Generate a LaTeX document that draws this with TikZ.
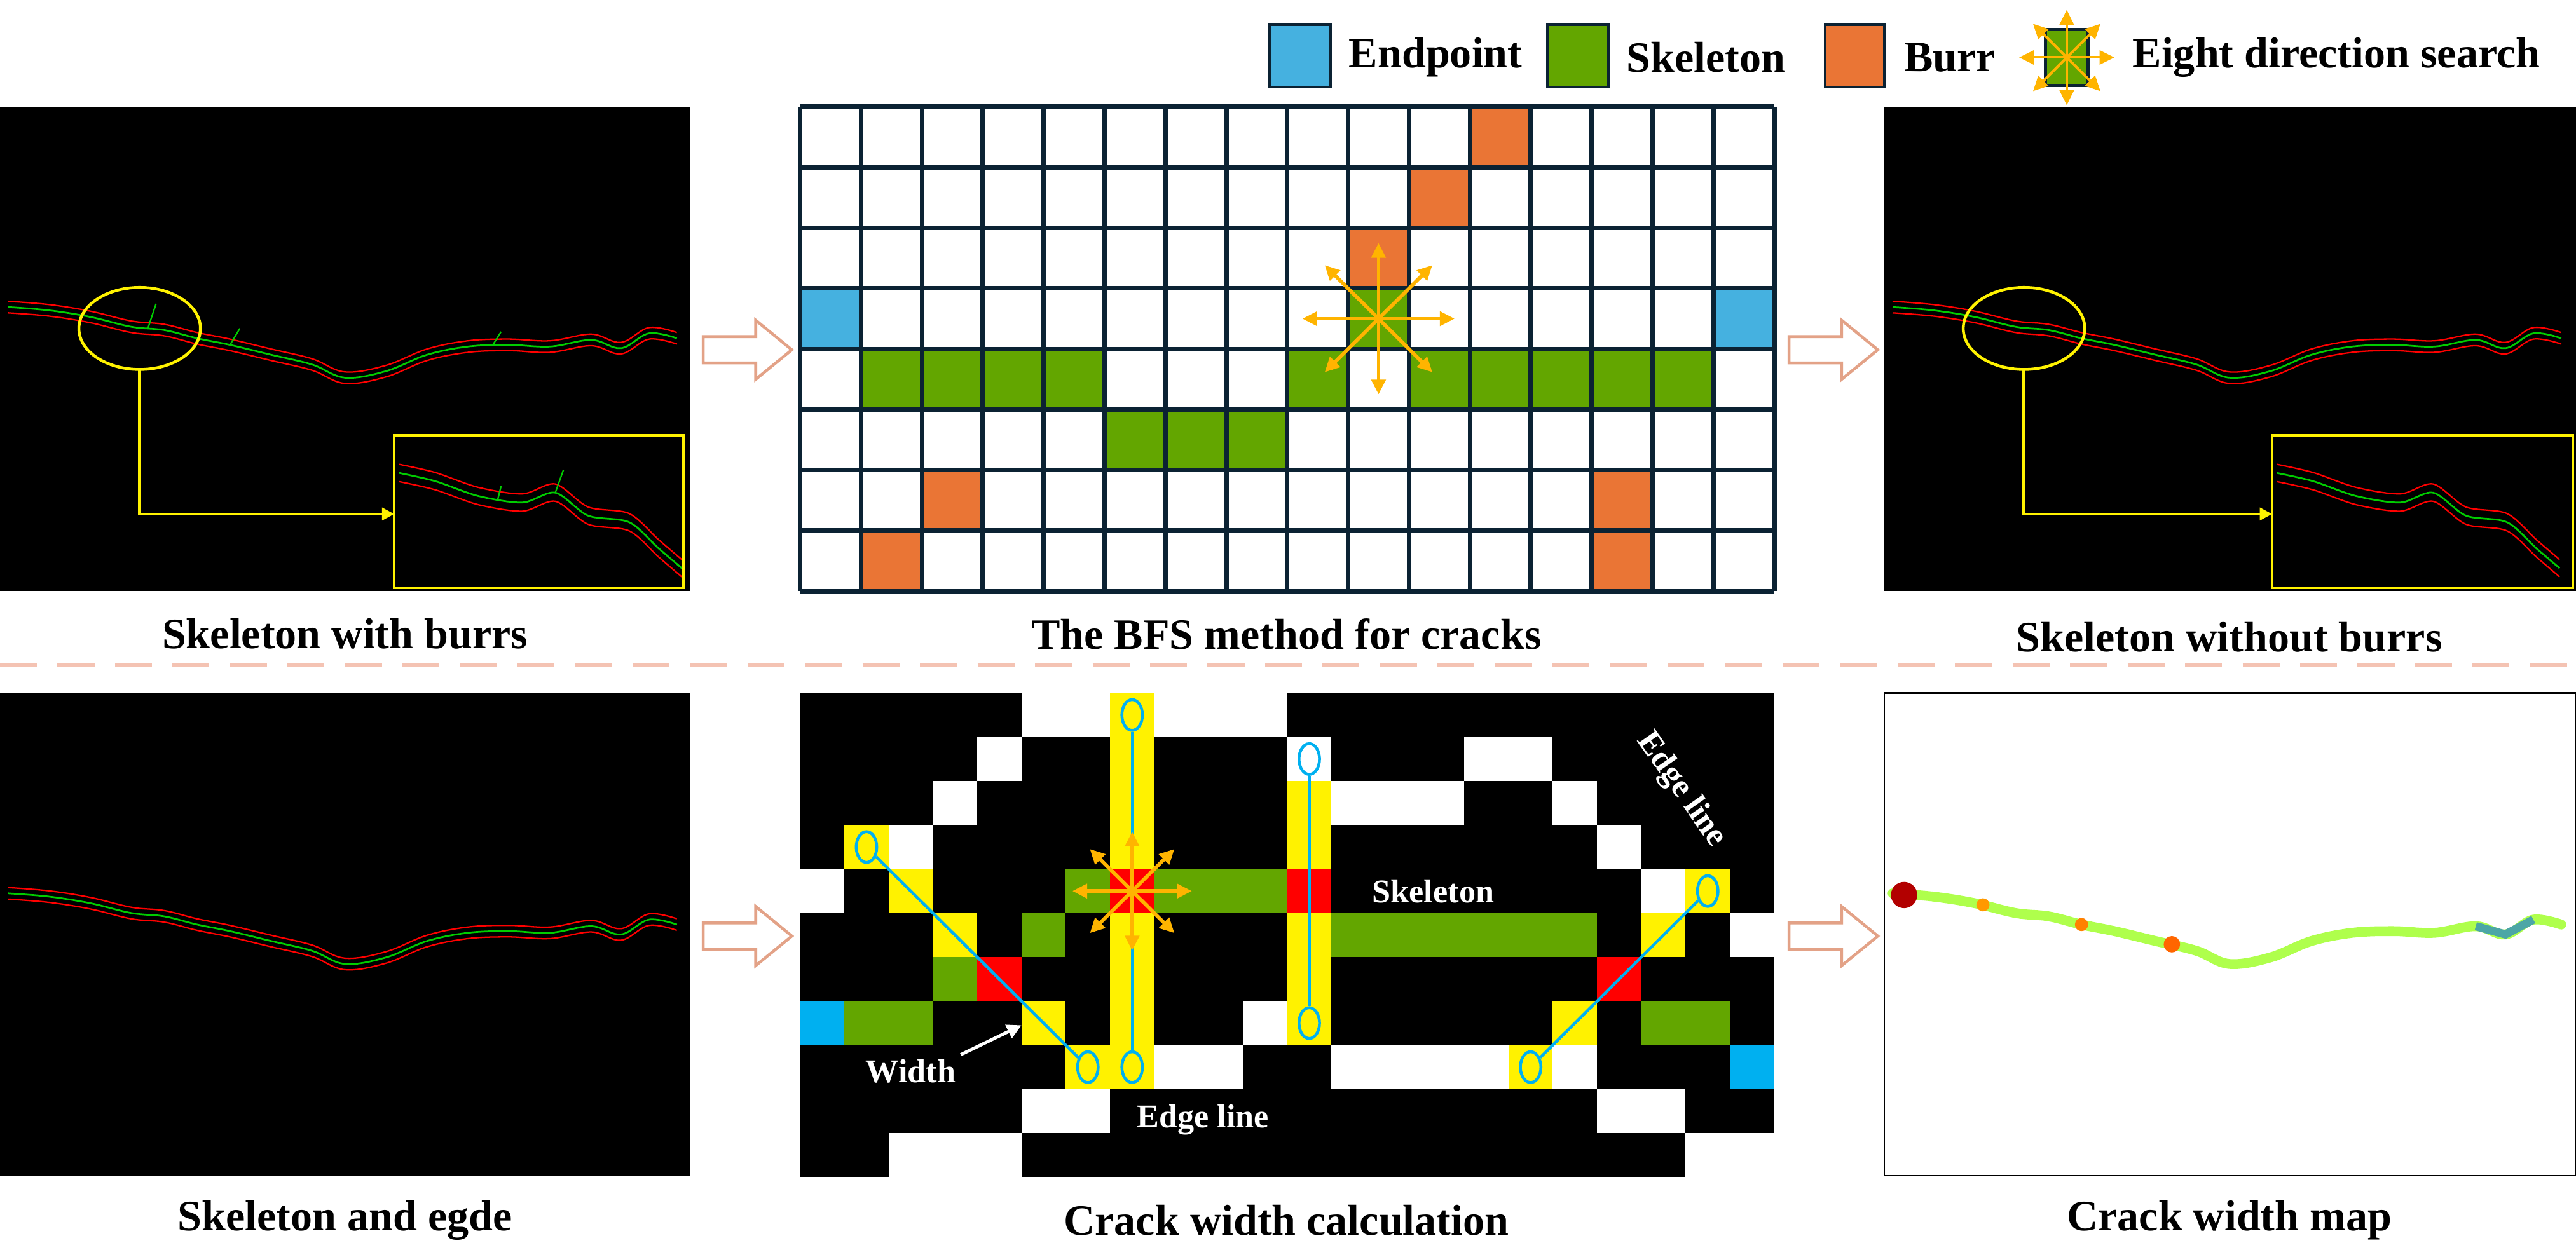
\documentclass[tikz,border=0pt]{standalone}
\usepackage{fontspec}
\setmainfont{Liberation Serif}
\usetikzlibrary{arrows.meta,shapes.geometric}

\definecolor{gridnavy}{HTML}{0B2233}
\definecolor{skelgreen}{HTML}{63A600}
\definecolor{burrorange}{HTML}{EA7535}
\definecolor{endblue}{HTML}{45B1E0}
\definecolor{cyanline}{HTML}{00B0F0}
\definecolor{starorange}{HTML}{FFB400}
\definecolor{hollowarrow}{HTML}{E3A287}
\definecolor{dashpink}{HTML}{F4C3B3}

\tikzset{
	caption/.style={font=\fontsize{30}{34}\selectfont\bfseries},
	legendtext/.style={font=\fontsize{30}{34}\selectfont\bfseries, anchor=west},
	innertext/.style={font=\fontsize{23}{26}\selectfont\bfseries, text=white},
	legendbox/.style={draw=gridnavy, line width=2pt},
	endcircle/.style={ellipse, draw=cyanline, line width=2pt, minimum width=5mm, minimum height=7.5mm, inner sep=0pt},
	flow/.style={draw=hollowarrow, line width=2pt, fill=white, line join=miter},
}

\newcommand\crackline[1]{\draw[#1] plot[smooth, tension=.6] coordinates {(5,187) (30,189) (55,193) (80,199) (100,201) (120,206) (140,210) (165,216) (190,222) (210,230) (235,226) (260,216) (285,211) (310,210) (335,211) (360,207) (378,212) (395,203) (412,206)};}
\newcommand\insetline[1]{\draw[#1] plot[smooth, tension=.5] coordinates {(0,22) (22,27) (48,36) (75,40) (95,34) (115,48) (140,52) (158,68) (172,80)};}
\newcommand\flowarrow[1]{\draw[flow] #1 ++(0,-8) -- ++(32,0) -- ++(0,-10) -- ++(22,18) -- ++(-22,18) -- ++(0,-10) -- ++(-32,0) -- cycle;}
\newcommand\eightway[4]{\foreach \ang in {0,45,...,315} \draw[#3, line width=#4, -{Triangle[length=3.6mm,width=3.4mm]}] #1 -- ++(\ang:#2);}

\begin{document}
\begin{tikzpicture}[x=0.4mm, y=-0.4mm]
	\useasboundingbox (0,0) rectangle (1568,761);
	
	% legend
	\fill[endblue, legendbox] (773,15) rectangle (810,53);
	\node[legendtext] (lgend) at (818,35) {Endpoint};
	\fill[skelgreen, legendbox] (942,15) rectangle (979,53);
	\node[legendtext] (lgskel) at (987,35) {Skeleton};
	\fill[burrorange, legendbox] (1111,15) rectangle (1147,53);
	\node[legendtext] (lgburr) at (1156,35) {Burr};
	\fill[skelgreen, legendbox] (1245,18) rectangle (1271,52);
	\eightway{(1258,35)}{29}{starorange}{1.8pt}
	\node[legendtext] (lgsearch) at (1295,35) {Eight direction search};
	
	% top left: skeleton with burrs
	\fill[black] (0,65) rectangle (420,360);
	\begin{scope}[yshift=-4]\crackline{red, line width=1pt}\end{scope}
	\begin{scope}[yshift=4]\crackline{red, line width=1pt}\end{scope}
	\crackline{green!80!black, line width=1.2pt}
	\draw[green!80!black, line width=1pt] (90,200) -- (95,185) (140,210) -- (146,200) (300,210) -- (305,202);
	\draw[yellow, line width=2pt] (85,200) ellipse (37 and 25);
	\draw[yellow, line width=2pt, -{Triangle[length=3mm,width=3mm]}] (85,225) |- (240,313);
	\draw[yellow, line width=2pt] (240,265) rectangle (416,358);
	\begin{scope}[shift={(243,266)}]
		\begin{scope}[yshift=-6]\insetline{red, line width=1pt}\end{scope}
		\begin{scope}[yshift=6]\insetline{red, line width=1pt}\end{scope}
		\insetline{green!80!black, line width=1.2pt}
		\draw[green!80!black, line width=1pt] (95,34) -- (100,20) (60,38) -- (62,30);
	\end{scope}
	\node[caption] (captl) at (210,386) {Skeleton with burrs};
	
	% top middle: grid for BFS
	\begin{scope}[shift={(487,65)}, x=1.4825cm, y=-1.475cm]
		\foreach \c/\r in {11/0,10/1,9/2,2/6,1/7,13/6,13/7} \fill[burrorange] (\c,\r) rectangle ++(1,1);
		\foreach \c/\r in {0/3,15/3} \fill[endblue] (\c,\r) rectangle ++(1,1);
		\foreach \c/\r in {9/3,1/4,2/4,3/4,4/4,8/4,10/4,11/4,12/4,13/4,14/4,5/5,6/5,7/5} \fill[skelgreen] (\c,\r) rectangle ++(1,1);
		\foreach \c in {0,...,16} \draw[gridnavy, line width=1.1mm] (\c,0) -- (\c,8);
		\foreach \r in {0,...,8} \draw[gridnavy, line width=1.1mm] (0,\r) -- (16,\r);
		\eightway{(9.5,3.5)}{1.25}{starorange}{2.5pt}
	\end{scope}
	\node[caption] (captm) at (783,386) {The BFS method for cracks};
	
	% top right: skeleton without burrs
	\fill[black] (1147,65) rectangle (1568,360);
	\begin{scope}[xshift=1147*0.4mm]
		\begin{scope}[yshift=-4]\crackline{red, line width=1pt}\end{scope}
		\begin{scope}[yshift=4]\crackline{red, line width=1pt}\end{scope}
		\crackline{green!80!black, line width=1.2pt}
		\draw[yellow, line width=2pt] (85,200) ellipse (37 and 25);
		\draw[yellow, line width=2pt, -{Triangle[length=3mm,width=3mm]}] (85,225) |- (236,313);
		\draw[yellow, line width=2pt] (236,265) rectangle (419,358);
		\begin{scope}[shift={(239,266)}]
			\begin{scope}[yshift=-6]\insetline{red, line width=1pt}\end{scope}
			\begin{scope}[yshift=6]\insetline{red, line width=1pt}\end{scope}
			\insetline{green!80!black, line width=1.2pt}
		\end{scope}
	\end{scope}
	\node[caption] (captr) at (1357,388) {Skeleton without burrs};
	
	% separator
	\draw[dashpink, line width=2.5pt, dash pattern=on 9mm off 5mm] (0,405) -- (1568,405);
	
	% bottom left: skeleton and edge
	\fill[black] (0,422) rectangle (420,716);
	\begin{scope}[yshift=-357*0.4mm]
		\begin{scope}[yshift=-4]\crackline{red, line width=1pt}\end{scope}
		\begin{scope}[yshift=4]\crackline{red, line width=1pt}\end{scope}
		\crackline{green!80!black, line width=1.2pt}
	\end{scope}
	\node[caption] (capbl) at (210,743) {Skeleton and egde};
	
	% bottom middle: width calculation
	\begin{scope}[shift={(487,422)}, x=1.078cm, y=-1.072cm]
		\fill[black] (0,0) rectangle (22,11);
		\foreach \c/\r in {5/0,6/0,8/0,9/0,10/0,4/1,11/1,15/1,16/1,3/2,12/2,13/2,14/2,17/2,2/3,18/3,0/4,19/4,21/5,10/7,8/8,9/8,12/8,13/8,14/8,15/8,17/8,5/9,6/9,18/9,19/9,2/10,3/10,4/10,20/10,21/10}
			\fill[white] (\c,\r) rectangle ++(1,1);
		\foreach \c/\r in {7/0,7/1,7/2,7/3,7/5,7/6,7/7,7/8,11/2,11/3,11/5,11/6,11/7,1/3,2/4,3/5,5/7,6/8,20/4,19/5,17/7,16/8}
			\fill[yellow] (\c,\r) rectangle ++(1,1);
		\foreach \c/\r in {6/4,8/4,9/4,10/4,5/5,12/5,13/5,14/5,15/5,16/5,17/5,3/6,1/7,2/7,19/7,20/7}
			\fill[skelgreen] (\c,\r) rectangle ++(1,1);
		\foreach \c/\r in {7/4,11/4,4/6,18/6} \fill[red] (\c,\r) rectangle ++(1,1);
		\foreach \c/\r in {0/7,21/8} \fill[cyanline] (\c,\r) rectangle ++(1,1);
		\node[endcircle] (wa1) at (7.5,0.5) {};
		\node[endcircle] (wa2) at (7.5,8.5) {};
		\node[endcircle] (wb1) at (11.5,1.5) {};
		\node[endcircle] (wb2) at (11.5,7.5) {};
		\node[endcircle] (wc1) at (1.5,3.5) {};
		\node[endcircle] (wc2) at (6.5,8.5) {};
		\node[endcircle] (wd1) at (20.5,4.5) {};
		\node[endcircle] (wd2) at (16.5,8.5) {};
		\foreach \p in {a,b,c,d} \draw[cyanline, line width=2pt] (w\p1) -- (w\p2);
		\eightway{(7.5,4.5)}{1.35}{starorange}{2.5pt}
		\node[innertext] (skeltxt) at (14.3,4.5) {Skeleton};
		\node[innertext] (edgetxt) at (9.1,9.7) {Edge line};
		\node[innertext, rotate=-55] (edgetxt2) at (19.9,2.2) {Edge line};
		\node[innertext] (widthtxt) at (2.5,8.6) {Width};
		\coordinate (widthtip) at (5,7.55);
		\draw[white, line width=2.2pt, -{Triangle[length=3.5mm,width=3.5mm]}] (widthtxt.north east) -- (widthtip);
	\end{scope}
	\node[caption] (capbm) at (783,743) {Crack width calculation};
	
	% bottom right: width map
	\draw[black, line width=1pt] (1147,422) rectangle (1568,716);
	\begin{scope}[xshift=1147*0.4mm, yshift=-357*0.4mm]
		\crackline{green!45!yellow!70!white, line width=2.4mm, line cap=round}
		\draw[teal!70, line width=2mm] (360,207) -- (378,212) -- (395,203);
		\fill[orange] (120,206) circle (4);
		\fill[orange!80!red] (175,218) circle (5);
		\fill[orange!80!yellow] (60,194) circle (4);
		\fill[red!70!black] (12,188) circle (8);
	\end{scope}
	\node[caption] (capbr) at (1357,743) {Crack width map};
	
	% flow arrows
	\flowarrow{(428,213)}
	\flowarrow{(1089,213)}
	\flowarrow{(428,570)}
	\flowarrow{(1089,570)}
\end{tikzpicture}
\end{document}
